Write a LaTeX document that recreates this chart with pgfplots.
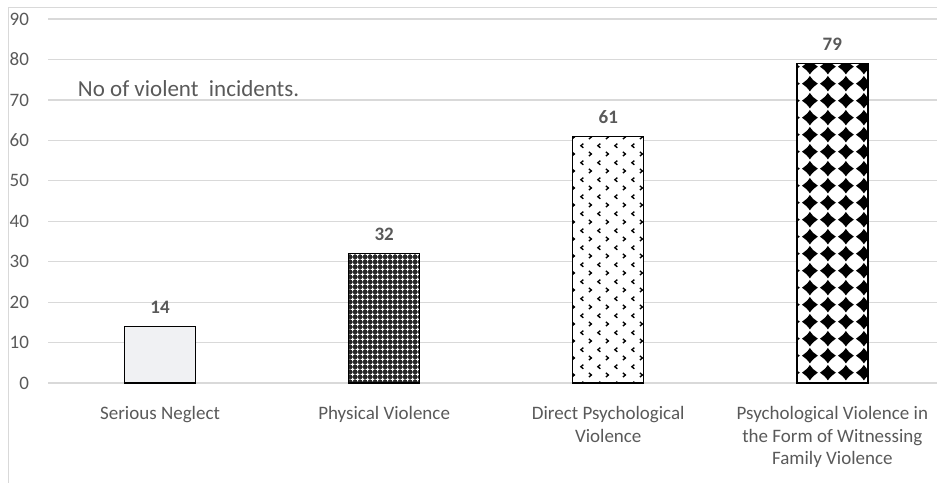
\documentclass[border=0pt]{standalone}
\usepackage{pgfplots}
\pgfplotsset{compat=1.18}
\usepackage{fontspec}
\setmainfont{Carlito}
\usetikzlibrary{patterns}

\definecolor{gridc}{RGB}{217,217,217}
\definecolor{txt}{RGB}{89,89,89}
\definecolor{lightbar}{RGB}{240,241,243}

% dark bar: black ground, white crosses
\pgfdeclarepatternformonly{checkx}{\pgfqpoint{-0.1pt}{-0.1pt}}{\pgfqpoint{2.6pt}{2.6pt}}{\pgfqpoint{2.5pt}{2.5pt}}{%
  \pgfpathrectangle{\pgfqpoint{1.0pt}{0.35pt}}{\pgfqpoint{0.5pt}{1.8pt}}%
  \pgfpathrectangle{\pgfqpoint{0.35pt}{1.0pt}}{\pgfqpoint{1.8pt}{0.5pt}}%
  \pgfusepath{fill}}

% small chevrons
\pgfdeclarepatternformonly{chev}{\pgfqpoint{0pt}{0pt}}{\pgfqpoint{8.5pt}{8.6pt}}{\pgfqpoint{8.5pt}{8.6pt}}{%
  \pgfsetlinewidth{0.7pt}%
  \pgfpathmoveto{\pgfqpoint{2.8pt}{7.5pt}}\pgfpathlineto{\pgfqpoint{1.5pt}{6.4pt}}\pgfpathlineto{\pgfqpoint{2.8pt}{5.3pt}}%
  \pgfpathmoveto{\pgfqpoint{5.7pt}{3.2pt}}\pgfpathlineto{\pgfqpoint{7.0pt}{2.1pt}}\pgfpathlineto{\pgfqpoint{5.7pt}{1.0pt}}%
  \pgfusepath{stroke}}

% four-point diamonds
\pgfdeclarepatternformonly{stars}{\pgfqpoint{0pt}{0pt}}{\pgfqpoint{8.9pt}{8.4pt}}{\pgfqpoint{8.9pt}{8.4pt}}{%
  \pgfpathmoveto{\pgfqpoint{8.4pt}{4.2pt}}%
  \pgfpathcurveto{\pgfqpoint{6.9pt}{5.2pt}}{\pgfqpoint{5.5pt}{6.4pt}}{\pgfqpoint{4.45pt}{8.1pt}}%
  \pgfpathcurveto{\pgfqpoint{3.4pt}{6.4pt}}{\pgfqpoint{2.0pt}{5.2pt}}{\pgfqpoint{0.5pt}{4.2pt}}%
  \pgfpathcurveto{\pgfqpoint{2.0pt}{3.2pt}}{\pgfqpoint{3.4pt}{2.0pt}}{\pgfqpoint{4.45pt}{0.3pt}}%
  \pgfpathcurveto{\pgfqpoint{5.5pt}{2.0pt}}{\pgfqpoint{6.9pt}{3.2pt}}{\pgfqpoint{8.4pt}{4.2pt}}%
  \pgfpathclose
  \pgfusepath{fill}}

\begin{document}
\begin{tikzpicture}
\useasboundingbox (0,0) rectangle (468.5pt,241pt);
\draw[gridc, line width=0.5pt] (4pt,-2pt) -- (4pt,237pt) -- (472pt,237pt);
\begin{axis}[
  at={(24pt,49.5pt)}, anchor=south west,
  scale only axis, width=444.5pt, height=182pt,
  xmin=-0.5, xmax=3.467, ymin=0, ymax=90,
  ytick={0,10,...,90},
  xtick={0,1,2,3},
  xticklabels={Serious Neglect, Physical Violence, {Direct Psychological\\Violence}, {Psychological Violence in\\the Form of Witnessing\\Family Violence}},
  ymajorgrids, grid style={gridc, line width=0.6pt},
  axis line style={draw=none},
  tick style={draw=none},
  /pgf/number format/assume math mode=true,
  yticklabel style={text=txt, font=\fontsize{9.5}{11}\selectfont, xshift=-6pt},
  xticklabel style={text=txt, font=\fontsize{9.5}{11.3}\selectfont, align=center, yshift=-4pt},
  ybar, bar width=35.5pt,
  nodes near coords,
  nodes near coords style={text=txt, font=\bfseries\fontsize{9.5}{11}\selectfont, yshift=2.6pt},
  clip=false,
]
\addplot[bar shift=0pt, draw=black, line width=0.7pt, fill=lightbar] coordinates {(0,14)};
\addplot[bar shift=0pt, draw=black, line width=0.7pt, fill=black!85, postaction={pattern=checkx, pattern color=white}] coordinates {(1,32)};
\addplot[bar shift=0pt, draw=black, line width=0.7pt, fill=white, postaction={pattern=chev, pattern color=black}] coordinates {(2,61)};
\addplot[bar shift=0pt, draw=black, line width=0.7pt, fill=white, postaction={pattern=stars, pattern color=black}] coordinates {(3,79)};
\node[anchor=west, text=txt, font=\fontsize{11.5}{13}\selectfont, inner sep=0pt] at (axis cs:-0.368,72.7) {No of violent\ \ incidents.};
\end{axis}
\end{tikzpicture}
\end{document}
